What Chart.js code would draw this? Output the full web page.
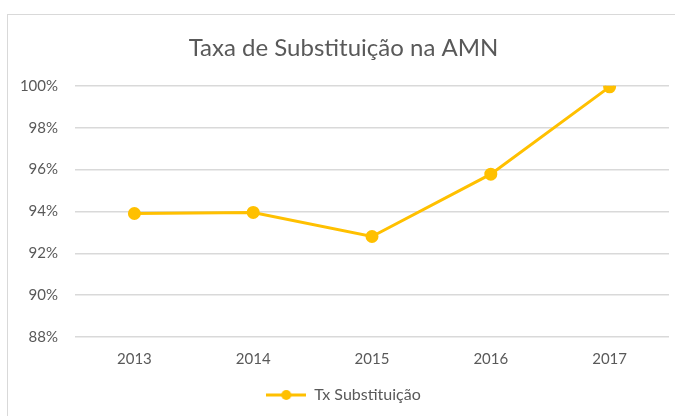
<!DOCTYPE html>
<html>
<head>
<meta charset="utf-8">
<script src="https://cdn.jsdelivr.net/npm/chart.js@4"></script>
<style>
  html, body { margin: 0; padding: 0; background: #fff; overflow: hidden; }
  #frame {
    position: absolute; left: 7px; top: 14px; width: 690px; height: 410px;
    border-left: 1px solid #d9d9d9; border-top: 1px solid #d9d9d9;
  }
  #frame canvas { display: block; }
</style>
</head>
<body>
<div id="frame"><canvas id="chart" width="690" height="410"></canvas></div>
<script>
// chart data
const years = ["2013", "2014", "2015", "2016", "2017"];
const taxaSubstituicao = [0.9390, 0.9395, 0.9280, 0.9578, 0.9995];
const seriesName = "Tx Substituição";
const chartTitle = "Taxa de Substituição na AMN";

const gold = "#FFC000";
const textColor = "#595959";
const fontFamily = "Lato, 'Open Sans', sans-serif";

// legend marker: short line with a dot in the middle
function legendMarker() {
    const c = document.createElement("canvas");
    c.width = 40; c.height = 12;
    const g = c.getContext("2d");
    g.strokeStyle = gold;
    g.lineWidth = 3;
    g.beginPath();
    g.moveTo(0, 6); g.lineTo(40, 6);
    g.stroke();
    g.fillStyle = gold;
    g.beginPath();
    g.arc(20, 6, 5, 0, Math.PI * 2);
    g.fill();
    return c;
}

const ctx = document.getElementById("chart").getContext("2d");
new Chart(ctx, {
    type: "line",
    data: {
        labels: years,
        datasets: [{
            label: seriesName,
            data: taxaSubstituicao,
            borderColor: gold,
            backgroundColor: gold,
            borderWidth: 3,
            pointRadius: 5,
            pointHoverRadius: 5,
            pointBackgroundColor: gold,
            pointBorderColor: gold,
            tension: 0
        }]
    },
    options: {
        responsive: false,
        animation: false,
        layout: { padding: { left: 10, right: 29, top: 17, bottom: 12 } },
        plugins: {
            title: {
                display: true,
                text: chartTitle,
                color: textColor,
                font: { family: fontFamily, size: 24, weight: "normal" },
                padding: { top: 2, bottom: 23 }
            },
            legend: {
                position: "bottom",
                labels: {
                    color: textColor,
                    font: { family: fontFamily, size: 16 },
                    usePointStyle: true,
                    pointStyleWidth: 40,
                    generateLabels: function(chart) {
                        return [{
                            text: seriesName,
                            pointStyle: legendMarker(),
                            fillStyle: gold,
                            strokeStyle: gold,
                            lineWidth: 0,
                            fontColor: textColor,
                            datasetIndex: 0
                        }];
                    }
                }
            },
            tooltip: { enabled: false }
        },
        scales: {
            x: {
                offset: true,
                afterFit: function(scale) { scale.height += 4; },
                grid: { display: false },
                border: { display: false },
                ticks: { color: textColor, font: { family: fontFamily, size: 15 }, padding: 5 }
            },
            y: {
                min: 0.88,
                max: 1.0,
                afterFit: function(scale) { scale.width = 57; },
                grid: { color: "#d9d9d9", lineWidth: 1.5, drawTicks: false },
                border: { display: false },
                ticks: {
                    stepSize: 0.02,
                    color: textColor,
                    font: { family: fontFamily, size: 15 },
                    padding: 17,
                    callback: function(v) { return Math.round(v * 100) + "%"; }
                }
            }
        }
    }
});
</script>
</body>
</html>
